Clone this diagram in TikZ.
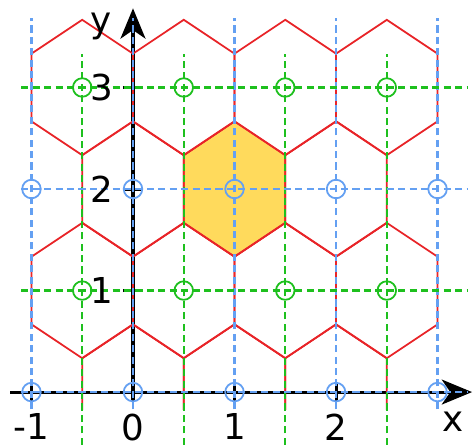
\documentclass[tikz,border=0pt]{standalone}
\usepackage{fontspec}
\setmainfont{DejaVu Sans}
\usepackage{tikz}
\usetikzlibrary{arrows.meta}
\definecolor{hexred}{RGB}{232,36,40}
\definecolor{hexgold}{RGB}{255,218,92}
\definecolor{latblue}{RGB}{100,160,242}
\definecolor{latgreen}{RGB}{30,192,30}
\tikzset{
  hexcell/.style={draw=hexred, line width=0.5pt},
  bluedash/.style={draw=latblue, line width=0.6pt, dash pattern=on 2pt off 1.2pt},
  greendash/.style={draw=latgreen, line width=0.6pt, dash pattern=on 2pt off 1.2pt},
  bluesite/.style={circle, draw=latblue, line width=0.5pt, minimum size=5.2pt, inner sep=0pt},
  greensite/.style={circle, draw=latgreen, line width=0.5pt, minimum size=5.2pt, inner sep=0pt},
  axisarrow/.style={-{Stealth[length=8.5pt, width=7pt, inset=2.4pt]}, line width=0.85pt, black},
  tickmark/.style={line width=0.85pt, black},
  ticklabel/.style={inner sep=0pt, font=\fontsize{10}{12}\selectfont}
}
\newcommand{\hexpath}{(0.5,0.3333) -- (0,0.6667) -- (-0.5,0.3333) -- (-0.5,-0.3333) -- (0,-0.6667) -- (0.5,-0.3333) -- cycle}

\begin{document}
\begin{tikzpicture}
  \useasboundingbox (-1.310,-0.522) rectangle (3.369,3.862);

  % highlighted cell
  \fill[hexgold, shift={(1,2)}] \hexpath;

  % axes
  \coordinate (xstart) at (-1.21,0);
  \coordinate (xend) at (3.34,0);
  \coordinate (ystart) at (0,0);
  \coordinate (yend) at (0,3.78);
  \draw[axisarrow] (xstart) -- (xend);
  \draw[axisarrow] (ystart) -- (yend);
  \foreach \i in {-1,0,1,2}
    \draw[tickmark] (\i,-0.1) -- (\i,0.1);
  \foreach \j in {1,2,3}
    \draw[tickmark] (-0.1,\j) -- (0.1,\j);

  % hexagonal cells
  \begin{scope}
    \clip (-1.4,-0.17) rectangle (3.4,3.9);
    \foreach \j in {0,2}
      \foreach \i in {0,1,2}
        \draw[hexcell, shift={(\i,\j)}] \hexpath;
    \foreach \j in {1,3}
      \foreach \i in {-0.5,0.5,1.5,2.5}
        \draw[hexcell, shift={(\i,\j)}] \hexpath;
  \end{scope}

  % lattice lines
  \foreach \i in {-1,0,1,2,3}
    \draw[bluedash] (\i,-0.17) -- (\i,3.68);
  \foreach \i in {-0.5,0.5,1.5,2.5}
    \draw[greendash] (\i,-0.52) -- (\i,3.33);
  \foreach \j in {0,2}
    \draw[bluedash] (-1.1,\j) -- (3.3,\j);
  \foreach \j in {1,3}
    \draw[greendash] (-1.1,\j) -- (3.3,\j);

  % lattice sites
  \foreach \j in {0,2}
    \foreach \i in {-1,0,1,2,3}
      \node[bluesite] (b\i-\j) at (\i,\j) {};
  \foreach \j in {1,3}
    \foreach \i in {-0.5,0.5,1.5,2.5}
      \node[greensite] (g\i-\j) at (\i,\j) {};

  % labels
  \foreach \i in {-1,0,1,2}
    \node[ticklabel, anchor=north] (lx\i) at (\i,-0.205) {\i};
  \foreach \j in {1,2,3}
    \node[ticklabel, anchor=east] (ly\j) at (-0.19,\j) {\j};
  \node[ticklabel] (xlabel) at (3.15,-0.29) {x};
  \node[ticklabel] (ylabel) at (-0.315,3.6) {y};
\end{tikzpicture}
\end{document}
